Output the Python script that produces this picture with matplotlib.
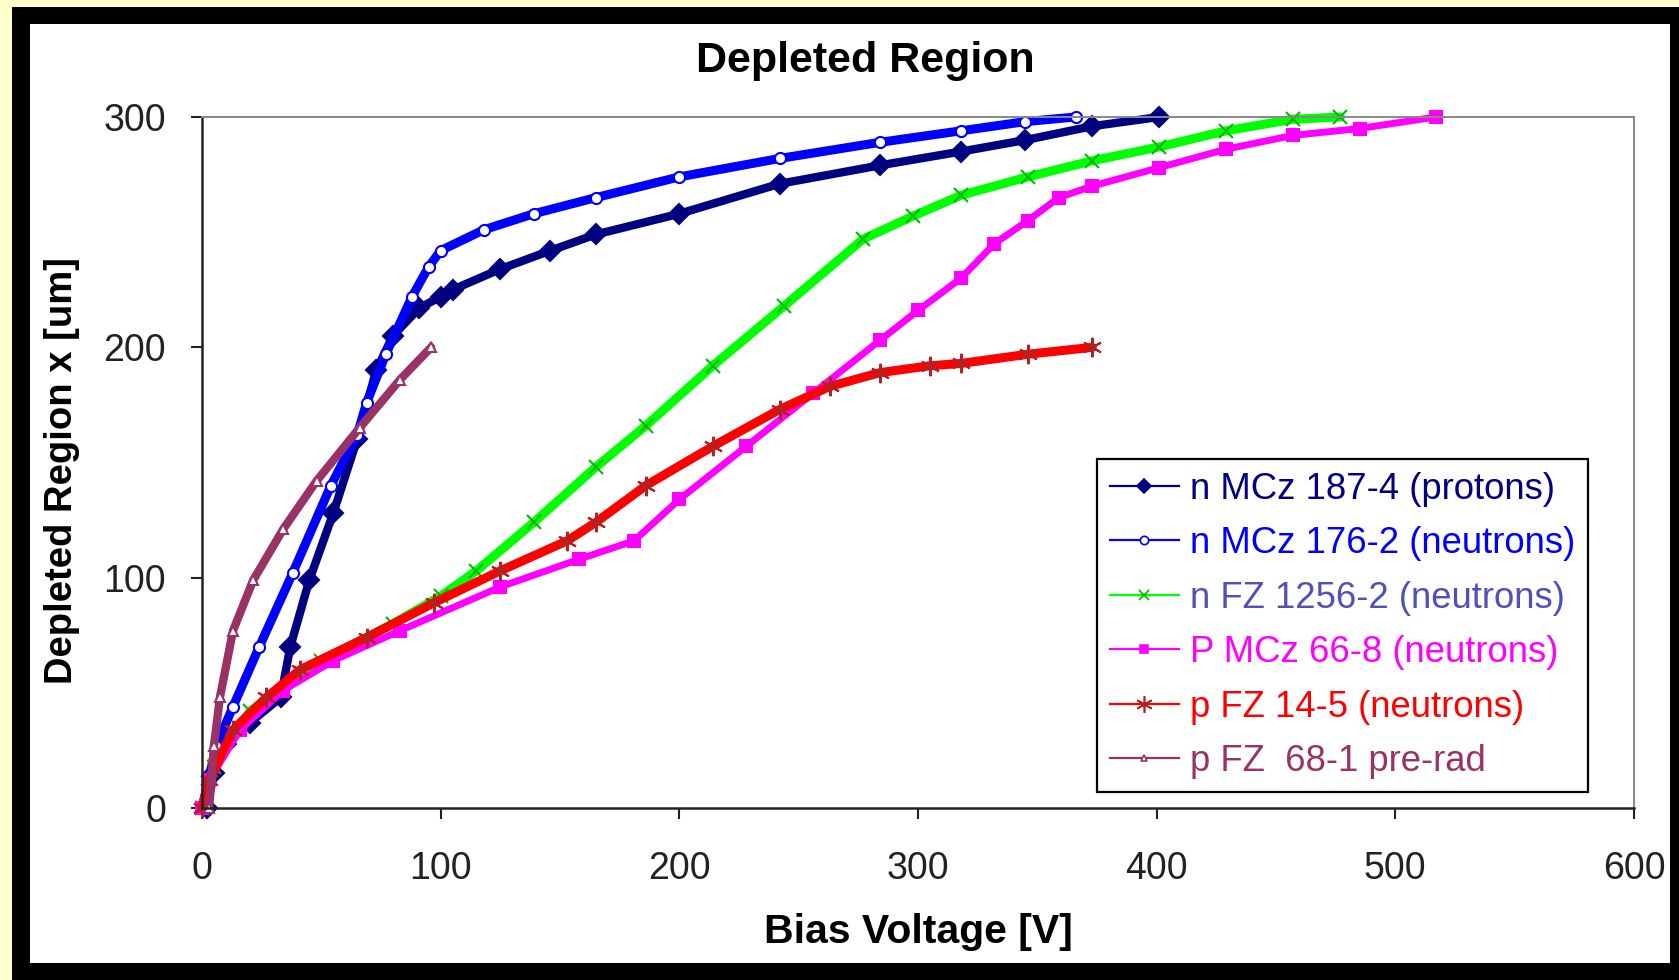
import matplotlib
matplotlib.use("Agg")
import matplotlib.pyplot as plt
from matplotlib.patches import Rectangle
from matplotlib.lines import Line2D

plt.rcParams['font.family'] = ['Liberation Sans', 'DejaVu Sans']

# ---------------- data ----------------
title = "Depleted Region"
x_label = "Bias Voltage [V]"
y_label = "Depleted Region x [um]"
x_ticks = [0, 100, 200, 300, 400, 500, 600]
y_ticks = [0, 100, 200, 300]

names = ["n MCz 187-4 (protons)", "n MCz 176-2 (neutrons)", "n FZ 1256-2 (neutrons)",
         "P MCz 66-8 (neutrons)", "p FZ 14-5 (neutrons)", "p FZ  68-1 pre-rad"]

v_mcz187 = [2, 5, 10, 20, 33, 37, 45, 55, 65, 73, 80, 91, 100, 105, 125, 146, 165, 200, 242, 284, 318, 345, 373, 401]
d_mcz187 = [0, 15, 28, 37, 48, 70, 99, 128, 160, 190, 205, 217, 222, 225, 234, 242, 249, 258, 271, 279, 285, 290, 296, 300]

v_mcz176 = [0, 6, 13, 24, 38, 54, 65, 69, 77, 88, 95, 100, 118, 139, 165, 200, 242, 284, 318, 345, 366]
d_mcz176 = [0, 27, 44, 70, 102, 140, 162, 176, 197, 222, 235, 242, 251, 258, 265, 274, 282, 289, 294, 298, 300]

v_fz1256 = [0, 5, 20, 50, 80, 100, 115, 139, 165, 186, 214, 244, 277, 298, 318, 346, 373, 401, 429, 457, 477]
d_fz1256 = [0, 18, 42, 64, 80, 92, 103, 124, 148, 166, 192, 218, 247, 257, 266, 274, 281, 287, 294, 299, 300]

v_pmcz66 = [0, 3, 16, 34, 55, 83, 125, 158, 181, 200, 228, 256, 284, 300, 318, 332, 346, 359, 373, 401, 429, 457, 485, 517]
d_pmcz66 = [0, 12, 34, 51, 64, 77, 96, 108, 116, 134, 157, 180, 203, 216, 230, 245, 255, 265, 270, 278, 286, 292, 295, 300]

v_pfz14 = [0, 3, 13, 27, 41, 69, 97, 125, 153, 165, 186, 214, 242, 263, 284, 305, 318, 346, 373]
d_pfz14 = [0, 12, 34, 48, 60, 74, 89, 103, 116, 124, 140, 157, 173, 183, 189, 192, 193, 197, 200]

v_pfz68 = [3, 5, 7.5, 13, 21.5, 34, 48, 66, 83, 96]
d_pfz68 = [0, 27, 48, 77, 99, 121, 142, 165, 186, 200]

# ---------------- styles ----------------
colors = ['#000080', '#0000FF', '#00FF00', '#FF00FF', '#FF0000', '#993366']
text_colors = ['#000080', '#0000FF', '#5050B8', '#FF00FF', '#FF0000', '#993366']
markers = ['D', 'o', 'x', 's', (6, 2, 0), '^']
mfaces = ['#000080', 'white', '#00FF00', '#FF00FF', '#FF0000', 'white']
medges = ['#000080', '#0000FF', '#00BB00', '#FF00FF', '#B22222', '#993366']
msizes = [10, 8, 10, 8, 14, 7]
lws = [6.0, 6.5, 6.5, 5.0, 6.5, 6.0]

series = [(v_mcz187, d_mcz187), (v_mcz176, d_mcz176), (v_fz1256, d_fz1256),
          (v_pmcz66, d_pmcz66), (v_pfz14, d_pfz14), (v_pfz68, d_pfz68)]

W, H = 1679, 980
fig = plt.figure(figsize=(W / 100, H / 100), dpi=100)
fig.patch.set_facecolor('#FFFFCC')
fig.add_artist(Rectangle((12 / W, 0), (W - 12) / W, (H - 7) / H, transform=fig.transFigure,
                         facecolor='black', edgecolor='none', zorder=-10))
fig.add_artist(Rectangle((30 / W, 17 / H), 1640 / W, 939 / H, transform=fig.transFigure,
                         facecolor='white', edgecolor='none', zorder=-9))

ax = fig.add_axes([202 / W, 172 / H, 1432 / W, 691 / H])
ax.set_facecolor('none')

for (v, d), c, m, mf, me, ms, lw in zip(series, colors, markers, mfaces, medges, msizes, lws):
    ax.plot(v, d, color=c, lw=lw, marker=m, markersize=ms, markerfacecolor=mf,
            markeredgecolor=me, markeredgewidth=1.5, clip_on=False, solid_joinstyle='round',
            solid_capstyle='round')

ax.set_xlim(0, 600)
ax.set_ylim(0, 300)
ax.set_xticks(x_ticks)
ax.set_yticks(y_ticks)
ax.tick_params(axis='both', direction='out', length=8, width=1.5, labelsize=27, colors='#222222')
ax.tick_params(axis='y', pad=18)
ax.tick_params(axis='x', pad=23)
for s in ['left', 'bottom']:
    ax.spines[s].set_color('#222222')
    ax.spines[s].set_linewidth(1.8)
for s in ['top', 'right']:
    ax.spines[s].set_color('#888888')
    ax.spines[s].set_linewidth(1.4)

ax.set_xlabel(x_label, fontsize=29.5, fontweight='bold', va='center')
ax.xaxis.set_label_coords(0.5, (808 - 932) / 691)
ax.set_ylabel(y_label, fontsize=27.5, fontweight='bold', va='center')
ax.yaxis.set_label_coords((62 - 202) / 1432, (808 - 471) / 691)

fig.text(865 / W, 1 - 61 / H, title, fontsize=31, fontweight='bold', ha='center', va='center')

leg_ms = [7, 6, 7, 6, 12, 5]
handles = [Line2D([0], [0], color=c, lw=1.6, marker=m, markersize=lm,
                  markerfacecolor=mf, markeredgecolor=me, markeredgewidth=1.2)
           for c, m, mf, me, lm in zip(colors, markers, mfaces, medges, leg_ms)]
leg = ax.legend(handles, names, loc='lower left', bbox_to_anchor=((1097 - 202) / 1432, (808 - 792) / 691),
                borderaxespad=0, fontsize=26.3, handlelength=1.9, handletextpad=0.3,
                labelspacing=0.535, borderpad=0.35, fancybox=False, framealpha=1, numpoints=1)
leg.get_frame().set_edgecolor('black')
leg.get_frame().set_linewidth(1.6)
for t, tc in zip(leg.get_texts(), text_colors):
    t.set_color(tc)

fig.savefig('out.png', dpi=100, facecolor=fig.get_facecolor())
